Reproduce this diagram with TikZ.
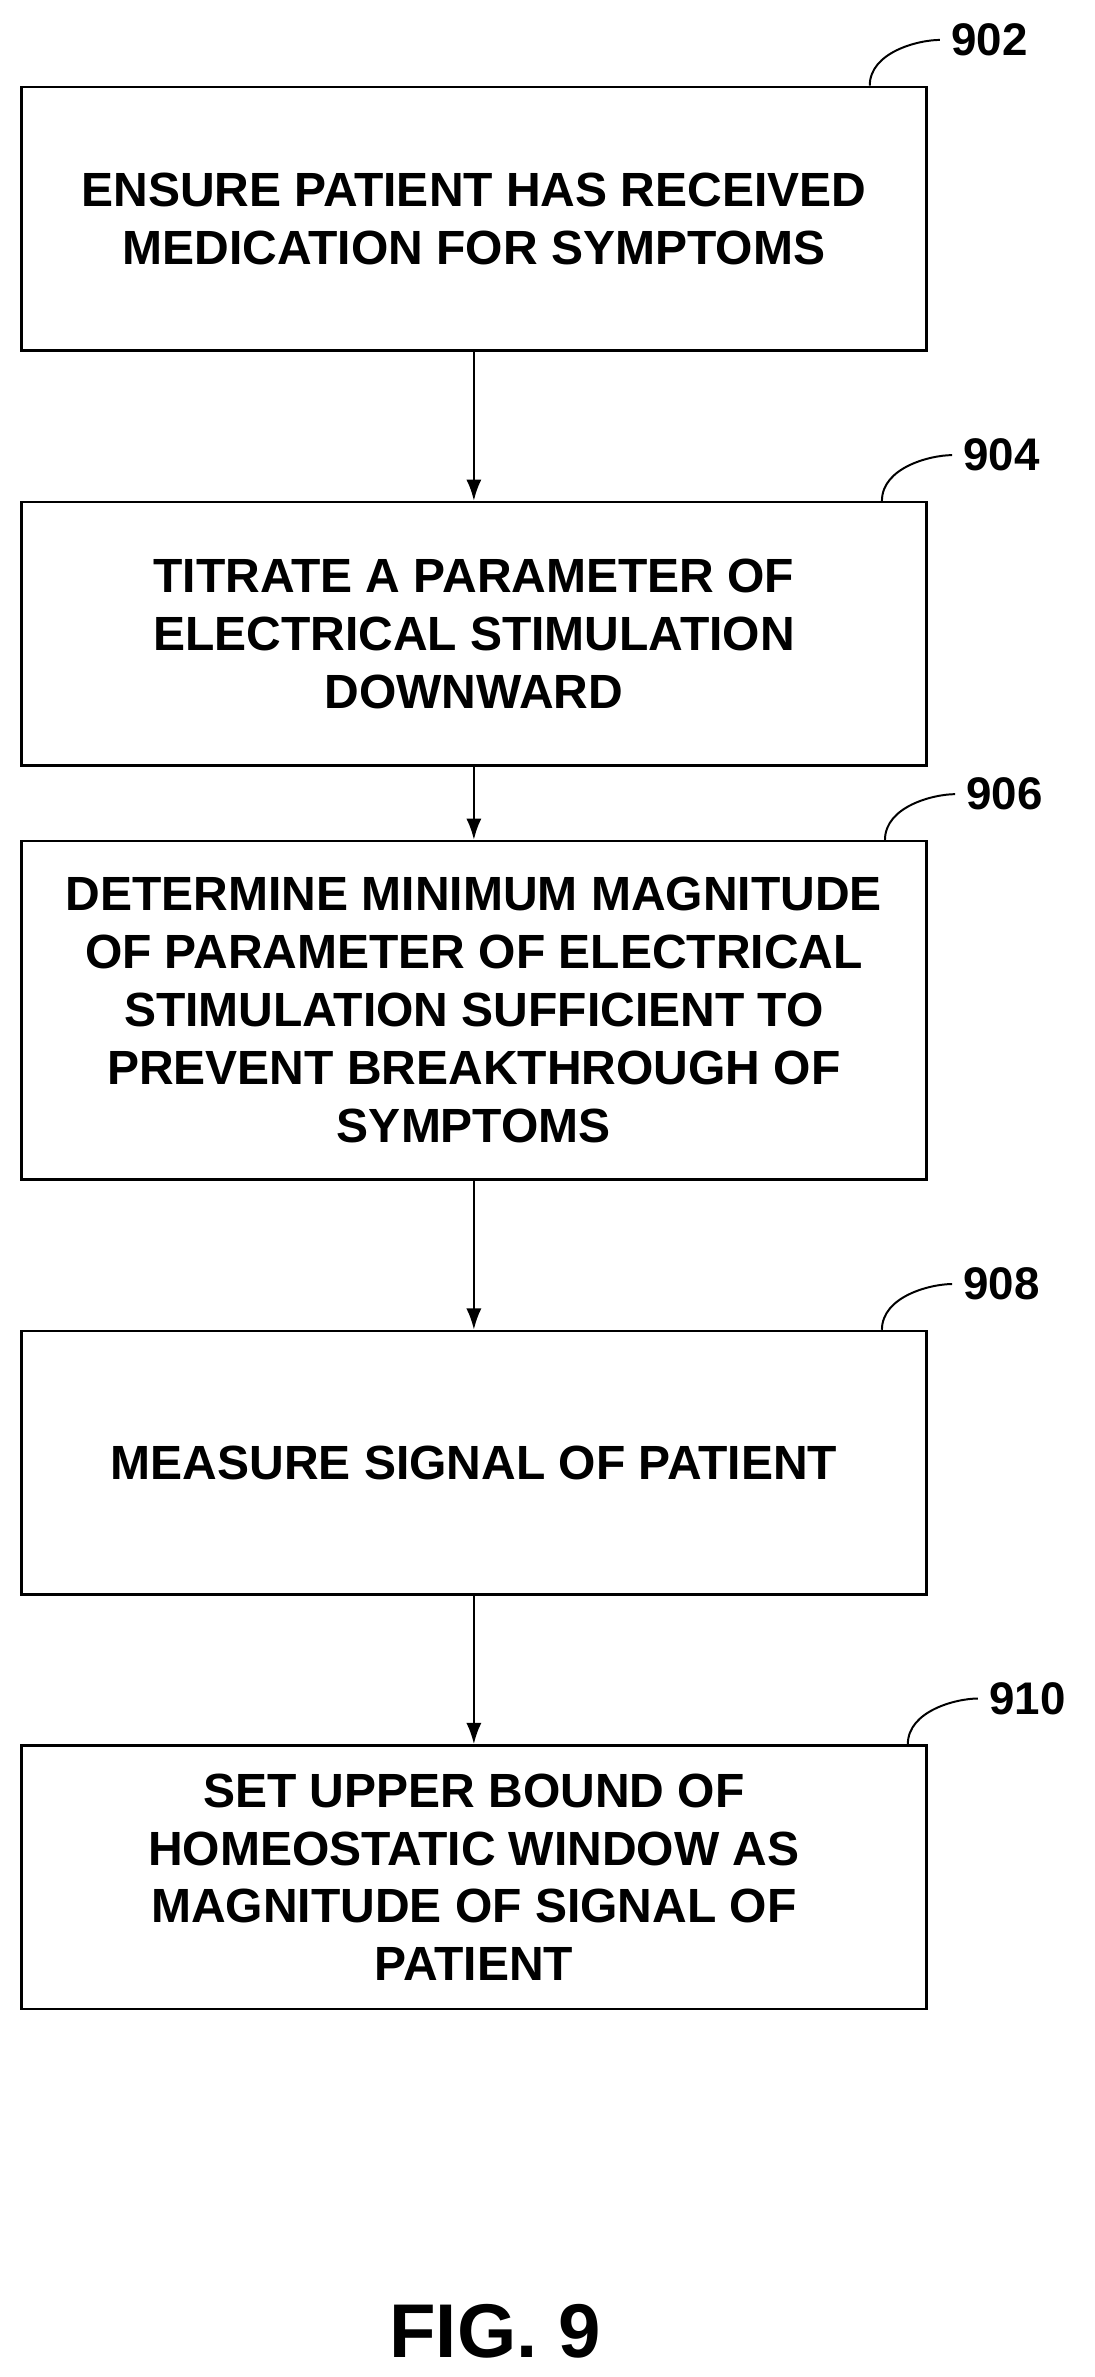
\documentclass[tikz,border=0pt]{standalone}
\usepackage{fontspec}
\setmainfont{Liberation Sans}
\usetikzlibrary{arrows.meta}
\begin{document}
\begin{tikzpicture}[x=1pt,y=-1pt,
 box/.style={draw,line width=1.6pt,minimum width=594pt,minimum height=173pt,align=center,inner sep=0pt,font=\fontsize{31.5}{38}\selectfont\bfseries},
 lab/.style={font=\fontsize{30}{34}\selectfont\bfseries,anchor=west},
 arr/.style={-{Latex[length=14pt,width=10pt]},line width=1.6pt}]
\useasboundingbox (0,0) rectangle (718,1560);
\node[box] (b1) at (311,143.5) {ENSURE PATIENT HAS RECEIVED\\MEDICATION FOR SYMPTOMS};
\node[box] (b2) at (311,416) {TITRATE A PARAMETER OF\\ELECTRICAL STIMULATION\\DOWNWARD};
\node[box,minimum height=222pt] (b3) at (311,663) {DETERMINE MINIMUM MAGNITUDE\\OF PARAMETER OF ELECTRICAL\\STIMULATION SUFFICIENT TO\\PREVENT BREAKTHROUGH OF\\SYMPTOMS};
\node[box] (b4) at (311,960) {MEASURE SIGNAL OF PATIENT};
\node[box] (b5) at (311,1232) {SET UPPER BOUND OF\\HOMEOSTATIC WINDOW AS\\MAGNITUDE OF SIGNAL OF\\PATIENT};
\draw[arr] (b1) -- (b2);
\draw[arr] (b2) -- (b3);
\draw[arr] (b3) -- (b4);
\draw[arr] (b4) -- (b5);
\foreach \b/\t/\dx in {b1/902/0,b2/904/8,b3/906/10,b4/908/8,b5/910/25}{
 \coordinate (s\t) at ([xshift={(-38+\dx)*1pt}]\b.north east);
 \node[lab] (l\t) at ([xshift={(12+\dx)*1pt},yshift=30pt]\b.north east) {\t};
 \draw[line width=1.3pt] (s\t) .. controls +(0,-22) and +(-14,0) .. ([xshift=-4pt]l\t.west);
}
\node[font=\fontsize{50}{56}\selectfont\bfseries] (fig) at (325,1530) {FIG. 9};
\end{tikzpicture}
\end{document}
